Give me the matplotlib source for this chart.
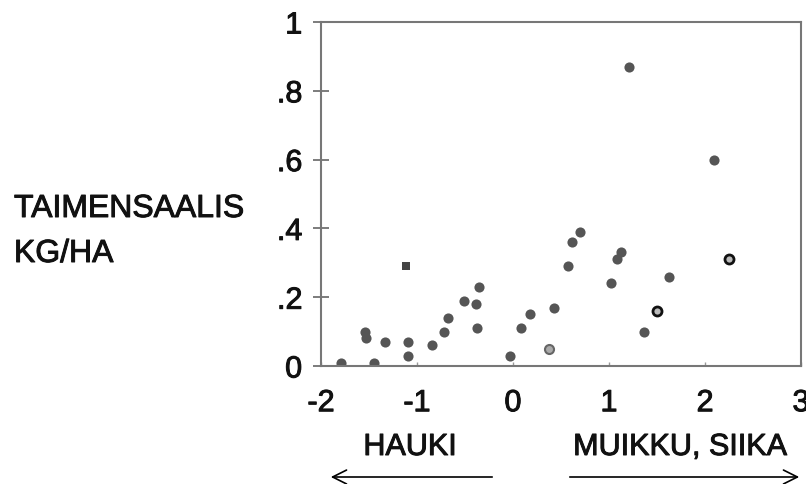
import numpy as np
import matplotlib
matplotlib.use("Agg")
import matplotlib.pyplot as plt
import matplotlib.patheffects as pe

plt.rcParams['font.family'] = ['Liberation Sans', 'DejaVu Sans']

# Pisteet (luettu kuvasta)
x_pisteet = [-1.79, -1.54, -1.53, -1.45, -1.33, -1.09, -1.09, -0.84, -0.72,
             -0.68, -0.51, -0.39, -0.38, -0.35, -0.03, 0.08, 0.18, 0.43,
             0.57, 0.61, 0.70, 1.02, 1.08, 1.13, 1.36, 1.63, 1.21, 2.09]
y_pisteet = [0.01, 0.10, 0.08, 0.01, 0.07, 0.07, 0.03, 0.06, 0.10,
             0.14, 0.19, 0.18, 0.11, 0.23, 0.03, 0.11, 0.15, 0.17,
             0.29, 0.36, 0.39, 0.24, 0.31, 0.33, 0.10, 0.26, 0.87, 0.60]

# Erikoismerkit
x_nelio = [-1.11]
y_nelio = [0.29]
x_rengas = [1.50, 2.25]
y_rengas = [0.16, 0.31]
x_vaalea = [0.375]
y_vaalea = [0.05]

x_ticks = [-2, -1, 0, 1, 2, 3]
x_labels = ['-2', '-1', '0', '1', '2', '3']
y_ticks = [0, 0.2, 0.4, 0.6, 0.8, 1.0]
y_labels = ['0', '.2', '.4', '.6', '.8', '1']

W, H = 806, 484
fig = plt.figure(figsize=(W / 100, H / 100), dpi=100)
ax = fig.add_axes([321 / W, 1 - 366 / H, 480 / W, 344 / H])

harmaa = '#555555'
ax.plot(x_pisteet, y_pisteet, 'o', color=harmaa, markersize=7.3, markeredgewidth=0)
ax.plot(x_nelio, y_nelio, 's', color='#444444', markersize=5.5, markeredgewidth=0)
ax.plot(x_rengas, y_rengas, 'o', markerfacecolor='#bbbbbb', markeredgecolor='#111111',
        markersize=6.5, markeredgewidth=2)
ax.plot(x_vaalea, y_vaalea, 'o', markerfacecolor='#aaaaaa', markeredgecolor='#666666',
        markersize=6.5, markeredgewidth=1.5)

paksu = [pe.withStroke(linewidth=0.7, foreground='#111111')]

ax.set_xlim(-2, 3)
ax.set_ylim(0, 1)
ax.set_xticks(x_ticks)
ax.set_xticklabels(x_labels, fontsize=22, color='#111111')
ax.set_yticks(y_ticks)
ax.set_yticklabels(y_labels, fontsize=22, color='#111111')
for t in ax.get_xticklabels() + ax.get_yticklabels():
    t.set_path_effects(paksu)
ax.tick_params(axis='y', direction='inout', length=11, width=1.2, color='#666666', pad=8)
ax.tick_params(axis='x', direction='in', length=3, width=1, color='#999999', pad=16)

for s in ax.spines.values():
    s.set_color('#777777')
    s.set_linewidth(1.5)

teksti = dict(fontsize=23, color='#111111', path_effects=paksu)
fig.text(14 / W, 1 - 217 / H, 'TAIMENSAALIS', va='baseline', ha='left', **teksti)
fig.text(14 / W, 1 - 262 / H, 'KG/HA', va='baseline', ha='left', **teksti)

teksti['fontsize'] = 22
fig.text(410 / W, 1 - 447 / H, 'HAUKI', va='center', ha='center', **teksti)
fig.text(680 / W, 1 - 447 / H, 'MUIKKU, SIIKA', va='center', ha='center', **teksti)

nuoli = dict(arrowstyle='->', lw=1.2, color='black', mutation_scale=25)
fig.add_artist(matplotlib.patches.FancyArrowPatch(
    (495 / W, 1 - 477 / H), (328 / W, 1 - 477 / H),
    transform=fig.transFigure, **nuoli))
fig.add_artist(matplotlib.patches.FancyArrowPatch(
    (567 / W, 1 - 477 / H), (802 / W, 1 - 477 / H),
    transform=fig.transFigure, **nuoli))

fig.savefig('out.png', dpi=100)
